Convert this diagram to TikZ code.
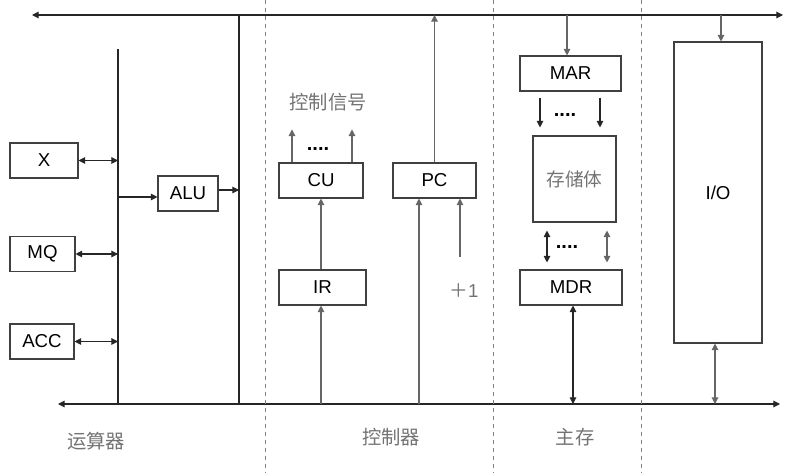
\documentclass[tikz,border=0pt]{standalone}
\usepackage{fontspec}
\setmainfont{Liberation Sans}
\newfontfamily\cjk{Noto Sans CJK SC}
\usetikzlibrary{positioning, calc, arrows.meta}
\tikzset{
    reg/.style={draw=black!75, line width=0.8pt, inner sep=0pt, minimum height=26.25pt,
        font=\fontsize{14}{16}\selectfont},
    bus/.style={line width=0.8pt, black!85},
    wire/.style={line width=0.8pt, black!60},
    tip/.style={-{Triangle[length=5pt,width=5pt]}},
    dtip/.style={{Triangle[length=5pt,width=5pt]}-{Triangle[length=5pt,width=5pt]}},
    part/.style={black!55, font=\cjk\fontsize{14.5}{16}\selectfont},
    dots/.style={font=\fontsize{15}{16}\selectfont\bfseries, inner sep=0pt}
}

\begin{document}
\begin{tikzpicture}[x=0.75pt, y=-0.75pt]
        \useasboundingbox (0,0) rectangle (785,473);
        % ----------------------------------------------------
        % Buses and region borders
        % ----------------------------------------------------
        \coordinate (tl) at (32,15);
        \coordinate (tr) at (783,15);
        \coordinate (bl) at (58,404);
        \coordinate (br) at (780,404);
        \draw[bus, dtip] (tl) -- (tr);
        \draw[bus, dtip] (bl) -- (br);

        \foreach \xd in {265.7, 493, 641.7}
            \draw[dashed, black!50, line width=0.6pt] (\xd,0) -- (\xd,473);

        % ----------------------------------------------------
        % ALU part
        % ----------------------------------------------------
        \coordinate (lbus) at (118,49);
        \coordinate (rbus) at (239,15);
        \draw[bus] (lbus) -- (lbus |- bl);
        \draw[bus] (rbus) -- (rbus |- bl);

        \node[reg, minimum width=51pt] (X) at (44,160.5) {X};
        \node[reg, minimum width=48.75pt] (MQ) at (42.5,254) {MQ};
        \node[reg, minimum width=48pt] (ACC) at (42,341.5) {ACC};
        \node[reg, minimum width=45pt] (ALU) at (188,193.5) {ALU};

        \draw[bus, dtip] (X.east) -- (X.east -| lbus);
        \draw[bus, dtip] (MQ.east) -- (MQ.east -| lbus);
        \draw[bus, dtip] (ACC.east) -- (ACC.east -| lbus);
        \coordinate (aluin) at ($(ALU.west)+(0,3.5)$);
        \coordinate (aluout) at ($(ALU.east)+(0,-3.5)$);
        \draw[bus, tip] (aluin -| lbus) -- (aluin);
        \draw[bus, tip] (aluout) -- (aluout -| rbus);

        % ----------------------------------------------------
        % Control unit
        % ----------------------------------------------------
        \node[reg, minimum width=63pt] (CU) at (321,180.5) {CU};
        \node[reg, minimum width=65.25pt] (IR) at (322.5,287.5) {IR};
        \node[reg, minimum width=62.25pt] (PC) at (434.5,180.5) {PC};

        \draw[wire, tip] ($(CU.north)+(-29,0)$) -- ++(0,-33);
        \draw[wire, tip] ($(CU.north)+(31,0)$) -- ++(0,-33);
        \node[dots] (cudots) at (318,149) {....};
        \node[part] (sig) at (328,102) {控制信号};

        \draw[wire, tip] (CU.south |- IR.north) -- (CU.south);
        \draw[wire, tip] (CU.south |- bl) -- (CU.south |- IR.south);

        \draw[wire, tip] (PC.north) -- (PC.north |- tl);
        \coordinate (pcin) at ($(PC.south)+(-15.5,0)$);
        \draw[wire, tip] (pcin |- bl) -- (pcin);
        \coordinate (inc) at (460,257);
        \draw[wire, tip] (inc) -- (inc |- PC.south);
        \node[black!55, font=\fontsize{14}{16}\selectfont] (one) at (464,291) {{\cjk ＋}1};

        % ----------------------------------------------------
        % Main memory
        % ----------------------------------------------------
        \node[reg, minimum width=75.75pt] (MAR) at (570.5,73.5) {MAR};
        \node[reg, minimum width=62.25pt, minimum height=64.5pt,
              font=\cjk\fontsize{14}{16}\selectfont, text=black!55] (mem) at (574.5,179) {存储体};
        \node[reg, minimum width=76.5pt] (MDR) at (571,287.5) {MDR};

        \coordinate (marin) at ($(MAR.north)+(-3.5,0)$);
        \draw[wire, tip] (marin |- tl) -- (marin);
        \draw[bus, tip] ($(MAR.south)+(-30.5,6)$) -- ($(mem.north)+(-34.5,-8)$);
        \draw[bus, tip] ($(MAR.south)+(29.5,6)$) -- ($(mem.north)+(25.5,-8)$);
        \node[dots] (mardots) at (565,115) {....};

        \draw[bus, dtip] ($(mem.south)+(-27.5,8)$) -- ($(MDR.north)+(-24,-7)$);
        \draw[wire, dtip] ($(mem.south)+(32.5,8)$) -- ($(MDR.north)+(36,-7)$);
        \node[dots] (mdrdots) at (567,247) {....};

        \coordinate (mdrout) at ($(MDR.south)+(2,0)$);
        \draw[bus, dtip] (mdrout) -- (mdrout |- bl);

        % ----------------------------------------------------
        % I/O
        % ----------------------------------------------------
        \node[reg, minimum width=66pt, minimum height=225.75pt] (IO) at (718,192.5) {I/O};
        \coordinate (ioin) at ($(IO.north)+(3,0)$);
        \coordinate (ioout) at ($(IO.south)+(-3,0)$);
        \draw[wire, tip] (ioin |- tl) -- (ioin);
        \draw[wire, dtip] (ioout) -- (ioout |- bl);

        % Region labels
        \node[part] (alupart) at (96,441) {运算器};
        \node[part] (cupart) at (391,437) {控制器};
        \node[part] (mempart) at (575,437) {主存};
    \end{tikzpicture}
\end{document}
